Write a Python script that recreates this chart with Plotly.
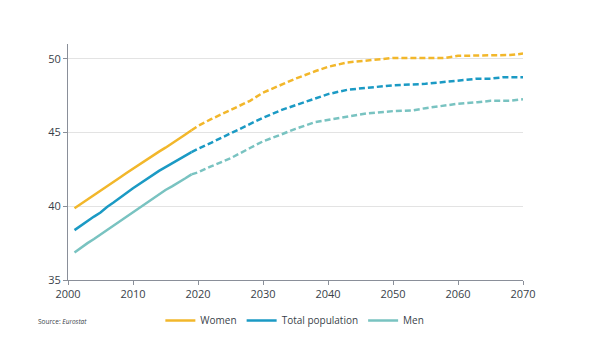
import plotly.graph_objects as go

hist_years = list(range(2001, 2020))
women_hist = [39.86, 40.15, 40.45, 40.75, 41.05, 41.33, 41.62, 41.95, 42.25, 42.55,
              42.83, 43.12, 43.42, 43.70, 43.97, 44.25, 44.52, 44.85, 45.15]
total_hist = [38.38, 38.70, 39.00, 39.30, 39.58, 39.95, 40.25, 40.55, 40.90, 41.22,
              41.52, 41.82, 42.12, 42.40, 42.65, 42.92, 43.18, 43.42, 43.67]
men_hist = [36.87, 37.20, 37.50, 37.78, 38.08, 38.40, 38.72, 39.00, 39.30, 39.62,
            39.90, 40.22, 40.52, 40.80, 41.10, 41.35, 41.60, 41.88, 42.16]

women_proj_years = [2019, 2020, 2022, 2025, 2028, 2030, 2033, 2035, 2038, 2040, 2043, 2046,
                    2050, 2055, 2058, 2060, 2065, 2068, 2070]
women_proj = [45.15, 45.45, 45.90, 46.50, 47.15, 47.70, 48.30, 48.65, 49.15, 49.45, 49.75, 49.90,
              50.05, 50.05, 50.05, 50.20, 50.25, 50.25, 50.35]
total_proj_years = [2019, 2020, 2022, 2025, 2028, 2030, 2033, 2035, 2038, 2040, 2043, 2046,
                    2050, 2055, 2060, 2063, 2065, 2067, 2070]
total_proj = [43.67, 43.90, 44.30, 44.95, 45.60, 46.00, 46.55, 46.85, 47.35, 47.60, 47.90, 48.05,
              48.20, 48.30, 48.55, 48.65, 48.65, 48.75, 48.75]
men_proj_years = [2019, 2020, 2022, 2025, 2028, 2030, 2033, 2035, 2038, 2040, 2043, 2046,
                  2050, 2053, 2055, 2058, 2060, 2063, 2065, 2068, 2070]
men_proj = [42.16, 42.30, 42.70, 43.25, 43.95, 44.40, 44.90, 45.25, 45.70, 45.85, 46.10, 46.30,
            46.45, 46.50, 46.65, 46.85, 46.95, 47.05, 47.15, 47.15, 47.25]

series = [
    ("Women", "#F2B72B", women_hist, women_proj_years, women_proj),
    ("Total population", "#1B9AC4", total_hist, total_proj_years, total_proj),
    ("Men", "#79C3C1", men_hist, men_proj_years, men_proj),
]

x_ticks = [2000, 2010, 2020, 2030, 2040, 2050, 2060, 2070]
y_ticks = [35, 40, 45, 50]

fig = go.Figure()
for name, color, hist, py, pv in series:
    fig.add_trace(go.Scatter(x=hist_years, y=hist, mode="lines", name=name,
                             legendgroup=name, line=dict(color=color, width=2.5)))
    fig.add_trace(go.Scatter(x=py, y=pv, mode="lines", name=name, showlegend=False,
                             legendgroup=name,
                             line=dict(color=color, width=2.5, dash="6px,3px")))

fig.update_layout(
    width=600, height=351,
    margin=dict(l=60, r=85, t=36, b=79),
    paper_bgcolor="white", plot_bgcolor="white",
    font=dict(family="Open Sans", size=11, color="#3a3f4a"),
    showlegend=True,
    legend=dict(orientation="h", x=0.203, y=-0.11, xanchor="left", yanchor="top",
                font=dict(size=10, color="#3a3f4a"), itemwidth=30,
                tracegroupgap=0),
    xaxis=dict(range=[2000, 2070], tickvals=x_ticks, showgrid=False,
               showline=True, linecolor="#8a8f99", linewidth=1,
               ticks="outside", ticklen=4, tickcolor="#8a8f99", zeroline=False),
    yaxis=dict(range=[35, 51], tickvals=y_ticks, showgrid=True, gridcolor="#e3e3e3",
               showline=True, linecolor="#8a8f99", linewidth=1,
               ticks="outside", ticklen=4, tickcolor="#8a8f99", zeroline=False),
)

fig.add_annotation(xref="paper", yref="paper", x=-0.07, y=-0.175, xanchor="left",
                   yanchor="middle", showarrow=False,
                   text="Source: <i>Eurostat</i>", font=dict(size=6.5, color="#3a3f4a"))

fig.write_html("out.html")
